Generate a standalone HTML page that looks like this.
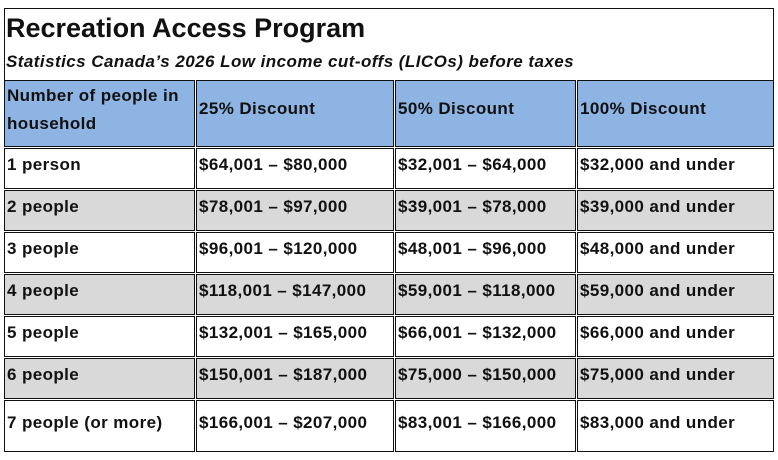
<!DOCTYPE html>
<html><head><meta charset="utf-8"><style>
body{margin:0;width:778px;height:460px;background:#fff;position:relative;overflow:hidden;font-family:"Liberation Sans",Arial,sans-serif;font-weight:bold;color:#111}
.b{position:absolute;box-sizing:border-box;border:1.5px solid #111}
.c{position:absolute;box-sizing:border-box;border:1.5px solid #111;font-size:17px;letter-spacing:0.4px;line-height:20px;padding-left:2px;white-space:nowrap}
.h{background:#8db4e2}
.g{background:#d9d9d9}
.t{position:absolute;white-space:nowrap}
</style></head><body>
<div class="b" style="left:4px;top:8px;width:770px;height:73px;border-bottom:none"></div>
<div class="t" style="left:6px;top:12px;font-size:27px;line-height:32px">Recreation Access Program</div>
<div class="t" style="left:6px;top:52px;font-size:17px;letter-spacing:0.45px;line-height:20px;font-style:italic">Statistics Canada’s 2026 Low income cut-offs (LICOs) before taxes</div>
<div id="tbl"></div>
<script>
var cols=[[4,195],[196,394],[395,576],[577,774]];
var rows=[[80,147,'h'],[148,189,''],[190,231,'g'],[232,273,''],[274,315,'g'],[316,357,''],[358,399,'g'],[400,452,'']];
var data=[["Number of people in<br>household","25% Discount","50% Discount","100% Discount"],
["1 person","$64,001 – $80,000","$32,001 – $64,000","$32,000 and under"],
["2 people","$78,001 – $97,000","$39,001 – $78,000","$39,000 and under"],
["3 people","$96,001 – $120,000","$48,001 – $96,000","$48,000 and under"],
["4 people","$118,001 – $147,000","$59,001 – $118,000","$59,000 and under"],
["5 people","$132,001 – $165,000","$66,001 – $132,000","$66,000 and under"],
["6 people","$150,001 – $187,000","$75,000 – $150,000","$75,000 and under"],
["7 people (or more)","$166,001 – $207,000","$83,001 – $166,000","$83,000 and under"]];
var h='';
for(var r=0;r<rows.length;r++){for(var c=0;c<4;c++){
var cls=rows[r][2];var pt=6,lh=20;
if(r==0){if(c==0){pt=1;lh=28;}else{pt=17;lh=22;}}
if(r==7)pt=12;
h+='<div class="c '+cls+'" style="left:'+cols[c][0]+'px;top:'+rows[r][0]+'px;width:'+(cols[c][1]-cols[c][0])+'px;height:'+(rows[r][1]-rows[r][0])+'px;padding-top:'+pt+'px;line-height:'+lh+'px">'+data[r][c]+'</div>';}}
document.getElementById('tbl').innerHTML=h;
</script>
</body></html>
